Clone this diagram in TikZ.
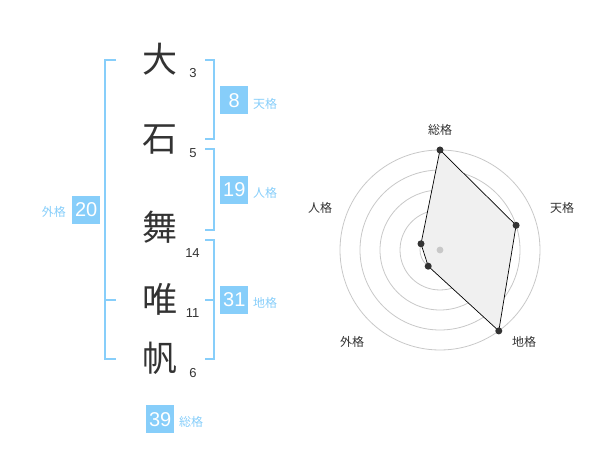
\documentclass[tikz,border=0pt]{standalone}
\usepackage{fontspec}
\setmainfont{Liberation Sans}
\newfontfamily\cjk{Noto Sans CJK JP}
\definecolor{skyb}{HTML}{87CEFA}
\definecolor{ink}{HTML}{333333}
\definecolor{gridc}{HTML}{C8C8C8}
\definecolor{fillc}{HTML}{F0F0F0}
\tikzset{
  bigchar/.style={font=\cjk\fontsize{35}{35}\selectfont, text=ink, inner sep=0pt},
  strokes/.style={font=\fontsize{13}{13}\selectfont, text=ink, inner sep=0pt},
  bracket/.style={draw=skyb, line width=2pt},
  valbox/.style={fill=skyb, text=white, minimum width=28pt, minimum height=28pt, inner sep=0pt, font=\fontsize{20}{20}\selectfont},
  kaku/.style={text=skyb, inner sep=0pt, font=\cjk\fontsize{12}{12}\selectfont},
  axlabel/.style={text=ink, inner sep=0pt, font=\cjk\fontsize{12}{12}\selectfont},
  ring/.style={draw=gridc, line width=0.8pt},
  dot/.style={circle, fill=ink, inner sep=0pt, minimum size=7pt},
}
\begin{document}
\begin{tikzpicture}[x=1pt,y=-1pt]
\useasboundingbox (0,0) rectangle (600,470);
% characters
\node[bigchar] (c1) at (159.5,59.5) {大};
\node[bigchar] (c2) at (159.5,139.5) {石};
\node[bigchar] (c3) at (159.5,227.5) {舞};
\node[bigchar] (c4) at (159.5,299.5) {唯};
\node[bigchar] (c5) at (159.5,358) {帆};
\node[strokes] (s1) at (193,73) {3};
\node[strokes] (s2) at (193,153.5) {5};
\node[strokes] (s3) at (192.5,253.5) {14};
\node[strokes] (s4) at (192.5,313.5) {11};
\node[strokes] (s5) at (193,373.5) {6};
% brackets
\draw[bracket] (116,60) -- (104.7,60) -- (104.7,359.5) -- (116,359.5);
\draw[bracket] (104.7,300) -- (116,300);
\draw[bracket] (205,60) -- (214.3,60) -- (214.3,139.5) -- (205,139.5);
\draw[bracket] (205,149.5) -- (214.3,149.5) -- (214.3,230) -- (205,230);
\draw[bracket] (205,240) -- (214.3,240) -- (214.3,359.5) -- (205,359.5);
\draw[bracket] (205,300) -- (214.3,300);
% value boxes
\node[valbox] (v1) at (234.3,100.5) {8};
\node[kaku, anchor=west] (k1) at (253,104) {天格};
\node[valbox] (v2) at (234.3,190) {19};
\node[kaku, anchor=west] (k2) at (253,193) {人格};
\node[valbox] (v3) at (234.3,300) {31};
\node[kaku, anchor=west] (k3) at (253,303) {地格};
\node[valbox] (v4) at (86.2,210) {20};
\node[kaku, anchor=east] (k4) at (66,212) {外格};
\node[valbox] (v5) at (160.2,419.2) {39};
\node[kaku, anchor=west] (k5) at (179,422) {総格};
% radar
\coordinate (ctr) at (440,250);
\foreach \r in {20,40,60,80,100} \draw[ring] (ctr) circle[radius=\r];
\coordinate (p1) at (440,150);
\coordinate (p2) at (516.1,225.3);
\coordinate (p3) at (498.8,330.9);
\coordinate (p4) at (428.2,266.2);
\coordinate (p5) at (421.0,243.8);
\draw[fill=fillc, draw=black, line width=0.7pt] (p1) -- (p2) -- (p3) -- (p4) -- (p5) -- cycle;
\fill[gridc] (ctr) circle[radius=3.4];
\foreach \p in {p1,p2,p3,p4,p5} \node[dot] at (\p) {};
\node[axlabel] (a1) at (440,130) {総格};
\node[axlabel] (a2) at (562,208) {天格};
\node[axlabel] (a3) at (524,342) {地格};
\node[axlabel] (a4) at (352,342) {外格};
\node[axlabel] (a5) at (320,208) {人格};
\end{tikzpicture}
\end{document}
